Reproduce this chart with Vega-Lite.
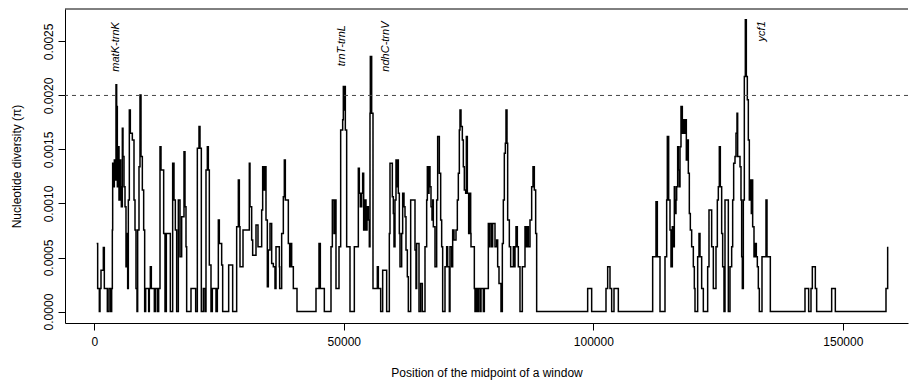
{
  "$schema": "https://vega.github.io/schema/vega-lite/v6.json",
  "width": 843,
  "height": 314,
  "autosize": {"type": "none"},
  "padding": {"left": 65, "top": 9, "right": 1, "bottom": 59},
  "background": "white",
  "config": {
    "view": {"stroke": null},
    "font": "Liberation Sans",
    "axis": {
      "grid": false,
      "domainColor": "black",
      "domainWidth": 1,
      "tickColor": "black",
      "tickWidth": 1,
      "tickSize": 7,
      "labelColor": "black",
      "labelFontSize": 12,
      "labelFont": "Liberation Sans",
      "titleFont": "Liberation Sans",
      "titleFontSize": 12,
      "titleFontWeight": "normal",
      "titleColor": "black"
    }
  },
  "datasets": {
    "pi": [
      {"pos":474,"pi":0.00063},{"pos":674,"pi":0.000213},{"pos":1008,"pi":0},{"pos":1142,"pi":0.000213},{"pos":1342,"pi":0.000383},{"pos":1810,"pi":0.000593},{"pos":2010,"pi":0.000213},{"pos":2612,"pi":0},{"pos":2946,"pi":0.000213},{"pos":3280,"pi":0},{"pos":3480,"pi":0.000213},{"pos":3614,"pi":0.000754},{"pos":3680,"pi":0.001372},{"pos":3814,"pi":0.001156},{"pos":4014,"pi":0.001403},{"pos":4148,"pi":0.001217},{"pos":4348,"pi":0.002098},{"pos":4482,"pi":0.001897},{"pos":4616,"pi":0.001156},{"pos":4749,"pi":0.001526},{"pos":4950,"pi":0.001032},{"pos":5150,"pi":0.001403},{"pos":5284,"pi":0.001156},{"pos":5417,"pi":0.00097},{"pos":5618,"pi":0.001696},{"pos":5751,"pi":0.001434},{"pos":5952,"pi":0.001156},{"pos":6152,"pi":0.00097},{"pos":6352,"pi":0.000414},{"pos":6553,"pi":0.000723},{"pos":6686,"pi":0.000213},{"pos":6820,"pi":0.001032},{"pos":7020,"pi":0.001866},{"pos":7221,"pi":0.00165},{"pos":7622,"pi":0.001588},{"pos":7956,"pi":0.001032},{"pos":8156,"pi":0.000754},{"pos":8356,"pi":0.000213},{"pos":8557,"pi":0},{"pos":8690,"pi":0.000754},{"pos":8958,"pi":0.001341},{"pos":9158,"pi":0.002005},{"pos":9358,"pi":0.001434},{"pos":9626,"pi":0.001125},{"pos":9893,"pi":0.000754},{"pos":10093,"pi":0},{"pos":10294,"pi":0.000213},{"pos":10895,"pi":0},{"pos":11028,"pi":0.000213},{"pos":11229,"pi":0.000414},{"pos":11429,"pi":0.000213},{"pos":12030,"pi":0},{"pos":12298,"pi":0.000213},{"pos":12698,"pi":0},{"pos":12899,"pi":0.000213},{"pos":13166,"pi":0.001526},{"pos":13366,"pi":0.00131},{"pos":13901,"pi":0.000723},{"pos":14168,"pi":0},{"pos":14435,"pi":0.000723},{"pos":15237,"pi":0},{"pos":15704,"pi":0.001372},{"pos":15972,"pi":0.001032},{"pos":16239,"pi":0.000754},{"pos":16506,"pi":0},{"pos":16840,"pi":0.001032},
      {"pos":17174,"pi":0.000507},{"pos":17508,"pi":0.000878},{"pos":17976,"pi":0.00148},{"pos":18176,"pi":0.00097},{"pos":18376,"pi":0.000599},{"pos":18510,"pi":0},{"pos":19378,"pi":0.000213},{"pos":20314,"pi":0},{"pos":20648,"pi":0.001511},{"pos":20982,"pi":0.001712},{"pos":21182,"pi":0.001511},{"pos":21449,"pi":0},{"pos":21850,"pi":0.000213},{"pos":22184,"pi":0},{"pos":22384,"pi":0.00131},{"pos":22652,"pi":0.001526},{"pos":22852,"pi":0.00131},{"pos":23052,"pi":0.00043},{"pos":23386,"pi":0},{"pos":23654,"pi":0.000213},{"pos":24388,"pi":0},{"pos":24656,"pi":0.000213},{"pos":24856,"pi":0.000847},{"pos":25056,"pi":0.00063},{"pos":25524,"pi":0.00043},{"pos":25724,"pi":0},{"pos":26927,"pi":0.00043},{"pos":27728,"pi":0},{"pos":28530,"pi":0.000785},{"pos":28864,"pi":0.001217},{"pos":29064,"pi":0.000785},{"pos":29198,"pi":0.000414},{"pos":29800,"pi":0.000754},{"pos":31068,"pi":0.001372},{"pos":31202,"pi":0.00097},{"pos":31536,"pi":0.000661},{"pos":31736,"pi":0.000522},{"pos":32404,"pi":0.0008},{"pos":32805,"pi":0.000599},{"pos":33540,"pi":0.000939},{"pos":33740,"pi":0.001341},{"pos":33941,"pi":0.001125},{"pos":34141,"pi":0.001341},{"pos":34408,"pi":0.000847},{"pos":34676,"pi":0.000229},{"pos":34876,"pi":0.000569},{"pos":35210,"pi":0.000816},{"pos":35544,"pi":0.000445},{"pos":35878,"pi":0.000414},{"pos":36212,"pi":0.000213},{"pos":36412,"pi":0.000599},{"pos":37080,"pi":0.000414},
      {"pos":37147,"pi":0.000213},{"pos":37548,"pi":0.000723},{"pos":37882,"pi":0.001063},{"pos":38082,"pi":0.001403},{"pos":38283,"pi":0.001032},{"pos":38884,"pi":0.00063},{"pos":39151,"pi":0.000414},{"pos":39352,"pi":0.00063},{"pos":39552,"pi":0.000414},{"pos":39886,"pi":0.000213},{"pos":40621,"pi":0},{"pos":44428,"pi":0.000213},{"pos":45030,"pi":0.00063},{"pos":45297,"pi":0.000213},{"pos":46098,"pi":0},{"pos":47434,"pi":0.000599},{"pos":47702,"pi":0.001032},{"pos":48036,"pi":0.000723},{"pos":48236,"pi":0.001032},{"pos":48436,"pi":0.000213},{"pos":49038,"pi":0.000599},{"pos":49372,"pi":0.001681},{"pos":49772,"pi":0.001774},{"pos":49906,"pi":0.002083},{"pos":50040,"pi":0.001866},{"pos":50174,"pi":0.002083},{"pos":50307,"pi":0.001681},{"pos":50574,"pi":0.000599},{"pos":51242,"pi":0},{"pos":52110,"pi":0.000599},{"pos":52912,"pi":0.001326},{"pos":53112,"pi":0.001094},{"pos":53313,"pi":0.00097},{"pos":53580,"pi":0.001094},{"pos":53780,"pi":0.001279},{"pos":53981,"pi":0.000754},{"pos":54248,"pi":0.001032},{"pos":54448,"pi":0.000754},{"pos":54649,"pi":0.00097},{"pos":54916,"pi":0.000847},{"pos":55116,"pi":0.000599},{"pos":55250,"pi":0.001835},{"pos":55317,"pi":0.002361},{"pos":55584,"pi":0.001835},
      {"pos":55851,"pi":0.000213},{"pos":56720,"pi":0.000414},{"pos":56920,"pi":0.000213},{"pos":57388,"pi":0},{"pos":57788,"pi":0.000383},{"pos":58590,"pi":0},{"pos":59124,"pi":0.000723},{"pos":59258,"pi":0.001372},{"pos":59726,"pi":0.001063},{"pos":59926,"pi":0.000908},{"pos":60060,"pi":0.000599},{"pos":60260,"pi":0.001032},{"pos":60460,"pi":0.001403},{"pos":60661,"pi":0.001156},{"pos":60794,"pi":0.001403},{"pos":60928,"pi":0.001094},{"pos":61128,"pi":0.000723},{"pos":61262,"pi":0.000414},{"pos":61596,"pi":0.000723},{"pos":61796,"pi":0.001094},{"pos":62064,"pi":0.00097},{"pos":62264,"pi":0.000878},{"pos":62464,"pi":0.000569},{"pos":62732,"pi":0.000321},{"pos":62932,"pi":0},{"pos":63400,"pi":0.001032},{"pos":64268,"pi":0.000569},{"pos":64468,"pi":0.000213},{"pos":64602,"pi":0.00063},{"pos":65070,"pi":0},{"pos":65404,"pi":0.00026},{"pos":65738,"pi":0},{"pos":66272,"pi":0.000599},{"pos":66606,"pi":0.001032},{"pos":66740,"pi":0.001341},{"pos":66940,"pi":0.001094},{"pos":67074,"pi":0.001341},{"pos":67274,"pi":0.001156},{"pos":67474,"pi":0.00097},{"pos":67675,"pi":0.000847},{"pos":67808,"pi":0.001032},{"pos":67942,"pi":0.000785},{"pos":68276,"pi":0.000414},{"pos":68610,"pi":0.001032},{"pos":68810,"pi":0.001619},{"pos":69144,"pi":0.001279},{"pos":69412,"pi":0.000847},{"pos":69612,"pi":0.000599},{"pos":69812,"pi":0},{"pos":70280,"pi":0.000414},{"pos":70614,"pi":0.000599},{"pos":70814,"pi":0.000414},{"pos":71148,"pi":0},{"pos":71282,"pi":0.000599},{"pos":71616,"pi":0.000414},{"pos":71816,"pi":0.000754},{"pos":72084,"pi":0.000661},{"pos":72484,"pi":0.000754},{"pos":72752,"pi":0.001032},{"pos":72952,"pi":0.001279},{"pos":73152,"pi":0.001681},{"pos":73286,"pi":0.001866},{"pos":73486,"pi":0.001712},{"pos":73754,"pi":0.001588},{"pos":73954,"pi":0.001341},{"pos":74154,"pi":0.001125},{"pos":74422,"pi":0.001094},
      {"pos":74555,"pi":0.001619},{"pos":74756,"pi":0.001094},{"pos":75023,"pi":0.000723},{"pos":75223,"pi":0.001094},{"pos":75424,"pi":0.000723},{"pos":75490,"pi":0.000599},{"pos":76158,"pi":0.000213},{"pos":76292,"pi":0},{"pos":76492,"pi":0.000213},{"pos":76760,"pi":0},{"pos":76960,"pi":0.000213},{"pos":77294,"pi":0},{"pos":77494,"pi":0.000213},{"pos":77962,"pi":0},{"pos":78162,"pi":0.000213},{"pos":78964,"pi":0.000816},{"pos":79098,"pi":0.000599},{"pos":79298,"pi":0.000816},{"pos":79632,"pi":0.000599},{"pos":79832,"pi":0.000816},{"pos":80300,"pi":0.000599},{"pos":80634,"pi":0.000661},{"pos":80834,"pi":0.000414},{"pos":81102,"pi":0.00026},{"pos":81502,"pi":0},{"pos":81770,"pi":0.00063},{"pos":81970,"pi":0.001032},{"pos":82170,"pi":0.001465},{"pos":82371,"pi":0.001557},{"pos":82504,"pi":0.001866},{"pos":82705,"pi":0.001557},{"pos":82838,"pi":0.000847},{"pos":83172,"pi":0.000599},{"pos":83440,"pi":0.000414},{"pos":83974,"pi":0.000599},{"pos":84174,"pi":0.000414},{"pos":84308,"pi":0.000599},{"pos":84508,"pi":0.000785},{"pos":84776,"pi":0.000599},{"pos":84976,"pi":0.000414},{"pos":85310,"pi":0},{"pos":85778,"pi":0.000414},{"pos":86312,"pi":0.000785},{"pos":86512,"pi":0.000599},{"pos":86713,"pi":0.000785},{"pos":86980,"pi":0.000599},{"pos":87314,"pi":0.000847},{"pos":87648,"pi":0.001156},{"pos":87915,"pi":0.001341},{"pos":88182,"pi":0.001125},{"pos":88450,"pi":0.000723},{"pos":88650,"pi":0},
      {"pos":98870,"pi":0.000213},{"pos":99672,"pi":0},{"pos":102544,"pi":0.000213},{"pos":102878,"pi":0.000414},{"pos":103346,"pi":0.000213},{"pos":103680,"pi":0},{"pos":104148,"pi":0.000213},{"pos":105016,"pi":0},{"pos":111896,"pi":0.000507},{"pos":112564,"pi":0.001017},{"pos":112832,"pi":0.000507},
      {"pos":113366,"pi":0},{"pos":114368,"pi":0.000507},{"pos":114702,"pi":0.001032},{"pos":114836,"pi":0.001619},{"pos":115103,"pi":0.001032},{"pos":115370,"pi":0.000754},{"pos":115570,"pi":0.000414},{"pos":115838,"pi":0.000785},{"pos":116038,"pi":0.000599},{"pos":116238,"pi":0.001156},{"pos":116372,"pi":0.000908},{"pos":116572,"pi":0.001032},{"pos":116706,"pi":0.001156},{"pos":116906,"pi":0.001526},{"pos":117040,"pi":0.00131},{"pos":117240,"pi":0.001156},{"pos":117374,"pi":0.001526},{"pos":117574,"pi":0.001897},{"pos":117842,"pi":0.00165},{"pos":118042,"pi":0.001774},{"pos":118242,"pi":0.00165},{"pos":118443,"pi":0.001774},{"pos":118643,"pi":0.001403},{"pos":118843,"pi":0.001588},{"pos":119044,"pi":0.001279},{"pos":119244,"pi":0.000908},{"pos":119445,"pi":0.000754},{"pos":119712,"pi":0.000599},{"pos":120046,"pi":0.000414},{"pos":120246,"pi":0.000213},{"pos":120380,"pi":0},{"pos":120914,"pi":0.000507},{"pos":121182,"pi":0.000723},{"pos":121382,"pi":0.000507},{"pos":121716,"pi":0.000213},{"pos":122050,"pi":0},{"pos":122918,"pi":0.000414},{"pos":123186,"pi":0.000939},{"pos":123720,"pi":0.000599},{"pos":124054,"pi":0.000213},{"pos":124588,"pi":0.000599},{"pos":124856,"pi":0.001032},{"pos":125056,"pi":0.001156},{"pos":125256,"pi":0.001526},{"pos":125457,"pi":0.001156},{"pos":125724,"pi":0.000723},{"pos":125924,"pi":0.000414},{"pos":126192,"pi":0},{"pos":126392,"pi":0.001032},{"pos":127060,"pi":0},{"pos":127394,"pi":0.000414},{"pos":127728,"pi":0.000599},{"pos":127928,"pi":0.001032},{"pos":128129,"pi":0.001372},{"pos":128396,"pi":0.001434},{"pos":128596,"pi":0.00165},{"pos":128797,"pi":0.001835},{"pos":128930,"pi":0.001434},{"pos":129398,"pi":0.001341},{"pos":129598,"pi":0.001032},{"pos":129732,"pi":0.000507},{"pos":129866,"pi":0.000213},{"pos":130066,"pi":0.001032},{"pos":130266,"pi":0.002175},{"pos":130467,"pi":0.002701},{"pos":130667,"pi":0.002175},{"pos":130868,"pi":0.001959},{"pos":131068,"pi":0.001588},{"pos":131268,"pi":0.001032},{"pos":131469,"pi":0.001217},{"pos":131669,"pi":0.000908},{"pos":131869,"pi":0.001217},
      {"pos":131936,"pi":0.000785},{"pos":132204,"pi":0.000507},{"pos":132404,"pi":0.00063},{"pos":132671,"pi":0.000507},{"pos":132872,"pi":0.000414},{"pos":133072,"pi":0.000213},{"pos":133272,"pi":0},{"pos":133807,"pi":0.000507},{"pos":134608,"pi":0.001032},{"pos":134809,"pi":0.000507},{"pos":135477,"pi":0},{"pos":142424,"pi":0.000213},{"pos":143159,"pi":0},{"pos":143626,"pi":0.000213},{"pos":143894,"pi":0.000414},{"pos":144495,"pi":0.000213},{"pos":144762,"pi":0},{"pos":147768,"pi":0.000213},{"pos":148503,"pi":0},{"pos":158656,"pi":0.000213},{"pos":158990,"pi":0.000599}
    ],
    "labels": [
      {"label": "matK-trnK", "pos": 4349, "pi": 0.00222},
      {"label": "trnT-trnL", "pos": 49540, "pi": 0.00227},
      {"label": "ndhC-trnV", "pos": 58456, "pi": 0.00222},
      {"label": "ycf1", "pos": 133710, "pi": 0.0025}
    ],
    "threshold": [{"pi": 0.002}],
    "frameTop": [{"pi": 0.0028}]
  },
  "layer": [
    {
      "data": {"name": "pi"},
      "mark": {"type": "line", "interpolate": "step-after", "color": "black", "strokeWidth": 1.5},
      "encoding": {
        "x": {
          "field": "pos", "type": "quantitative",
          "scale": {"domain": [-5872, 163066], "nice": false, "zero": false},
          "axis": {
            "values": [0, 50000, 100000, 150000],
            "format": "d",
            "labelPadding": 6,
            "title": "Position of the midpoint of a window",
            "titleBaseline": "alphabetic",
            "titleY": 53
          }
        },
        "y": {
          "field": "pi", "type": "quantitative",
          "scale": {"domain": [-0.000106, 0.0028], "nice": false, "zero": false},
          "axis": {
            "values": [0, 0.0005, 0.001, 0.0015, 0.002, 0.0025],
            "format": ".4f",
            "labelAngle": 270,
            "labelAlign": "center",
            "labelBaseline": "alphabetic",
            "labelPadding": 6,
            "title": "Nucleotide diversity (π)",
            "titleAngle": 270,
            "titleBaseline": "alphabetic",
            "titleX": -45
          }
        }
      }
    },
    {
      "data": {"name": "threshold"},
      "mark": {"type": "rule", "strokeDash": [4, 4], "color": "#444444", "strokeWidth": 1},
      "encoding": {"y": {"field": "pi", "type": "quantitative"}}
    },
    {
      "data": {"name": "frameTop"},
      "mark": {"type": "rule", "color": "black", "strokeWidth": 1},
      "encoding": {"y": {"field": "pi", "type": "quantitative"}}
    },
    {
      "data": {"name": "labels"},
      "mark": {"type": "text", "angle": 270, "align": "left", "baseline": "middle", "fontStyle": "italic", "fontSize": 11, "font": "Liberation Sans", "color": "black"},
      "encoding": {
        "x": {"field": "pos", "type": "quantitative"},
        "y": {"field": "pi", "type": "quantitative"},
        "text": {"field": "label"}
      }
    }
  ]
}
